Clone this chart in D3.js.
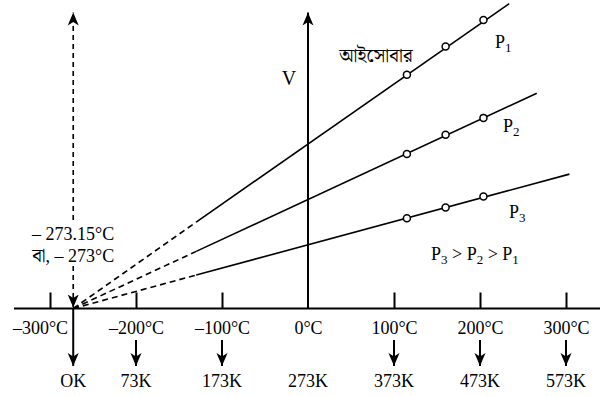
<!DOCTYPE html>
<html>
<head>
<meta charset="utf-8">
<script src="https://cdn.jsdelivr.net/npm/d3@7"></script>
<style>
  body { margin: 0; background: #fff; }
  text { font-family: "Liberation Serif", "Times New Roman", serif; fill: #000; }
  .bn { font-family: "Noto Serif Bengali", "Noto Sans Bengali", "Lohit Bengali", "FreeSerif", "Liberation Serif", serif; }
</style>
</head>
<body>
<div id="chart"></div>
<script>
const width = 602;
const height = 396;

// °C ticks on the temperature axis
const celsiusTicks = [-300, -200, -100, 0, 100, 200, 300];
// kelvin labels and the temperature each one points from
const kelvinTemps = [-273, -200, -100, 0, 100, 200, 300];
const kelvinLabels = ["OK", "73K", "173K", "273K", "373K", "473K", "573K"];

// isobars: names, measured points, where the solid part starts and ends
const pressureNames = ["1", "2", "3"];
const sampleTemps = [115, 160, 204];
const volumesP1 = [79, 88.5, 97.5];
const volumesP2 = [52.2, 58.7, 64.4];
const volumesP3 = [30.5, 34.1, 37.8];
const solidStartTemp = -130;
const solidStartVolumes = [29.2, 19.3, 11.3];
const lineEndTemps = [234, 266, 304];
const lineEndVolumes = [103, 72.7, 45.4];
const zeroTemp = -273;

const x = d3.scaleLinear().domain([-300, 300]).range([50, 566]);
const y = d3.scaleLinear().domain([0, 100]).range([308.5, 12.5]);

const svg = d3.select("#chart")
    .append("svg")
    .attr("width", width)
    .attr("height", height);

const defs = svg.append("defs");
defs.append("marker")
    .attr("id", "arrow")
    .attr("viewBox", "0 0 13 12")
    .attr("refX", 13)
    .attr("refY", 6)
    .attr("markerWidth", 13)
    .attr("markerHeight", 12)
    .attr("markerUnits", "userSpaceOnUse")
    .attr("orient", "auto")
    .append("path")
    .attr("d", "M0,0.5 L13,6 L0,11.5 L3.5,6 Z")
    .attr("fill", "#000");

// temperature axis
svg.append("line")
    .attr("x1", 14).attr("x2", 600)
    .attr("y1", y(0)).attr("y2", y(0))
    .attr("stroke", "#000").attr("stroke-width", 2);

const xAxis = svg.append("g")
    .attr("transform", `translate(0,${y(0)})`)
    .call(d3.axisBottom(x)
        .tickValues(celsiusTicks)
        .tickSizeInner(-16)
        .tickSizeOuter(0)
        .tickPadding(12.5)
        .tickFormat(d => (d < 0 ? "–" + (-d) : d) + "°C"));
xAxis.select(".domain").remove();
xAxis.selectAll(".tick line")
    .attr("stroke", "#000").attr("stroke-width", 2)
    .attr("display", d => d === 0 ? "none" : null);
xAxis.selectAll(".tick text")
    .attr("font-size", 18)
    .attr("fill", "#000")
    .attr("dx", d => d === -300 ? -10 : 0)
    .style("font-family", "'Liberation Serif', serif");

// volume axis
svg.append("line")
    .attr("x1", x(0)).attr("x2", x(0))
    .attr("y1", y(0)).attr("y2", y(100))
    .attr("stroke", "#000").attr("stroke-width", 2)
    .attr("marker-end", "url(#arrow)");
svg.append("text")
    .attr("x", x(0) - 19).attr("y", 85)
    .attr("text-anchor", "middle")
    .attr("font-size", 20)
    .text("V");

// kelvin arrows and labels
const kelvin = svg.append("g");
kelvinTemps.forEach((t, i) => {
    if (t !== 0) {
        kelvin.append("line")
            .attr("x1", x(t)).attr("x2", x(t))
            .attr("y1", t === zeroTemp ? y(0) : 340).attr("y2", 366)
            .attr("stroke", "#000").attr("stroke-width", 2)
            .attr("marker-end", "url(#arrow)");
    }
    kelvin.append("text")
        .attr("x", x(t)).attr("y", 387)
        .attr("text-anchor", "middle")
        .attr("font-size", 18)
        .text(kelvinLabels[i]);
});

// absolute zero dashed marker
svg.append("line")
    .attr("x1", x(zeroTemp)).attr("x2", x(zeroTemp))
    .attr("y1", 220).attr("y2", y(100))
    .attr("stroke", "#000").attr("stroke-width", 1.6)
    .attr("stroke-dasharray", "5,4")
    .attr("marker-end", "url(#arrow)");
svg.append("line")
    .attr("x1", x(zeroTemp)).attr("x2", x(zeroTemp))
    .attr("y1", 266).attr("y2", y(0) - 1)
    .attr("stroke", "#000").attr("stroke-width", 1.6)
    .attr("stroke-dasharray", "5,4")
    .attr("marker-end", "url(#arrow)");
svg.append("text")
    .attr("x", x(zeroTemp)).attr("y", 240)
    .attr("text-anchor", "middle")
    .attr("font-size", 18)
    .text("– 273.15°C");
svg.append("text")
    .attr("x", x(zeroTemp)).attr("y", 262)
    .attr("text-anchor", "middle")
    .attr("font-size", 18)
    .html('<tspan class="bn" font-size="19">বা</tspan>, – 273°C');

// isobars
const volumeSets = [volumesP1, volumesP2, volumesP3];
const lineGen = d3.line().x(d => x(d[0])).y(d => y(d[1]));
volumeSets.forEach((vols, i) => {
    svg.append("path")
        .attr("d", lineGen([[zeroTemp, 0], [solidStartTemp, solidStartVolumes[i]]]))
        .attr("fill", "none").attr("stroke", "#000").attr("stroke-width", 1.6)
        .attr("stroke-dasharray", "6,4");
    svg.append("path")
        .attr("d", lineGen([[solidStartTemp, solidStartVolumes[i]], [lineEndTemps[i], lineEndVolumes[i]]]))
        .attr("fill", "none").attr("stroke", "#000").attr("stroke-width", 1.6);
    svg.append("g").selectAll("circle")
        .data(sampleTemps.map((t, j) => [t, vols[j]]))
        .enter().append("circle")
        .attr("cx", d => x(d[0]))
        .attr("cy", d => y(d[1]))
        .attr("r", 3.5)
        .attr("fill", "#fff").attr("stroke", "#000").attr("stroke-width", 1.5);
});

// labels
const pLabelPos = [[495, 48], [503, 132], [509, 218]];
pressureNames.forEach((n, i) => {
    svg.append("text")
        .attr("x", pLabelPos[i][0]).attr("y", pLabelPos[i][1])
        .attr("font-size", 18)
        .html(`P<tspan font-size="13" dy="4">${n}</tspan>`);
});
svg.append("text")
    .attr("x", 431).attr("y", 260)
    .attr("font-size", 18)
    .html('P<tspan font-size="13" dy="4">3</tspan><tspan dy="-4"> &gt; P</tspan><tspan font-size="13" dy="4">2</tspan><tspan dy="-4"> &gt; P</tspan><tspan font-size="13" dy="4">1</tspan>');
svg.append("text")
    .attr("class", "bn")
    .attr("x", 376).attr("y", 62)
    .attr("text-anchor", "middle")
    .attr("font-size", 19)
    .text("আইসোবার");
</script>
</body>
</html>
